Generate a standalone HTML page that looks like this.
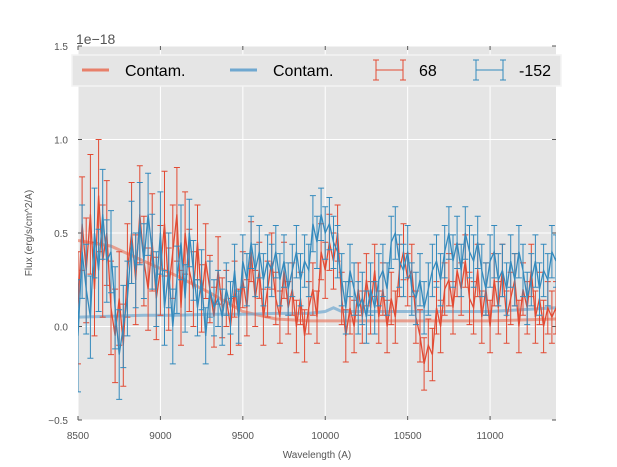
<!DOCTYPE html>
<html><head><meta charset="utf-8"><style>
body{margin:0;background:#fff;}
svg{display:block;font-family:"Liberation Sans","DejaVu Sans",sans-serif;}
</style></head><body>
<svg id="chart" width="617" height="467" viewBox="0 0 617 467" xmlns="http://www.w3.org/2000/svg">
<rect x="78" y="46" width="478" height="374" fill="#e5e5e5"/>
<g id="grid"></g>
<g id="axes"></g>
<g id="series"></g>
<g id="legend"></g>
</svg>
<script>
const xTicks=[8500,9000,9500,10000,10500,11000];
const yTicks=[-0.5,0.0,0.5,1.0,1.5];
const yTickLabels=["−0.5","0.0","0.5","1.0","1.5"];
const startWave=8500;
const stepWave=25;
const redFlux=[0.1,0.55,0.3,0.6,0.2,0.7,0.35,0.5,0.1,-0.05,0.15,-0.1,
0.3,0.5,0.25,0.6,0.35,0.2,0.45,0.15,0.3,0.55,0.2,0.4,
0.6,0.1,0.5,0.3,0.2,0.45,0.15,0.35,0.2,0.05,0.3,0.1,
0.15,0.0,0.2,0.05,0.25,0.1,0.4,0.15,0.3,0.05,0.2,0.35,
0.15,0.05,0.3,0.1,0.2,0.0,0.15,-0.05,0.1,0.2,0.05,0.4,
0.3,0.45,0.35,0.5,0.15,-0.05,0.1,0.0,0.2,0.05,0.25,0.1,
0.3,0.05,0.2,0.0,0.15,0.05,0.3,0.4,0.25,0.3,0.05,-0.05,
-0.2,-0.1,-0.15,0.1,0.0,0.2,0.25,0.1,0.3,0.2,0.35,0.15,
0.1,0.3,0.05,0.2,0.0,0.25,0.1,0.3,0.05,0.15,0.25,0.0,
0.2,0.1,0.3,0.05,0.15,0.0,0.1,0.05,0.1];
const redErr=[0.3,0.25,0.28,0.32,0.25,0.3,0.3,0.28,0.25,0.25,0.25,0.22,
0.25,0.27,0.24,0.26,0.24,0.22,0.26,0.22,0.24,0.28,0.22,0.25,
0.25,0.2,0.22,0.22,0.2,0.2,0.18,0.2,0.18,0.16,0.18,0.16,
0.15,0.15,0.15,0.15,0.15,0.15,0.16,0.15,0.15,0.15,0.15,0.15,
0.14,0.14,0.15,0.14,0.14,0.14,0.14,0.14,0.14,0.14,0.14,0.15,
0.15,0.15,0.15,0.15,0.14,0.14,0.14,0.14,0.14,0.14,0.14,0.14,
0.14,0.14,0.14,0.14,0.14,0.14,0.14,0.15,0.14,0.14,0.14,0.14,
0.14,0.14,0.14,0.14,0.14,0.14,0.14,0.14,0.14,0.14,0.14,0.14,
0.14,0.14,0.14,0.14,0.14,0.14,0.14,0.14,0.14,0.14,0.14,0.14,
0.14,0.14,0.14,0.14,0.14,0.14,0.14,0.14,0.14];
const blueFlux=[-0.05,0.4,0.2,0.05,0.5,0.3,0.6,0.35,0.4,0.1,-0.15,0.0,
0.15,0.45,0.3,0.55,0.35,0.6,0.4,0.2,0.5,0.1,0.3,0.0,
0.25,0.45,0.15,0.5,0.3,0.1,0.25,-0.05,0.2,0.1,0.15,0.05,
0.2,0.1,0.3,0.05,0.35,0.25,0.45,0.3,0.4,0.25,0.35,0.3,
0.4,0.25,0.35,0.2,0.3,0.4,0.25,0.35,0.3,0.55,0.45,0.6,
0.5,0.55,0.45,0.4,0.25,0.1,0.3,0.2,0.1,0.15,0.05,0.2,
0.1,0.25,0.3,0.2,0.45,0.5,0.35,0.3,0.4,0.2,0.15,0.25,
0.1,0.2,0.3,0.35,0.25,0.4,0.5,0.35,0.45,0.3,0.5,0.4,
0.35,0.45,0.3,0.2,0.35,0.4,0.25,0.3,0.2,0.35,0.25,0.4,
0.3,0.15,0.25,0.35,0.2,0.3,0.25,0.4,0.35];
const blueErr=[0.3,0.25,0.24,0.22,0.24,0.22,0.24,0.22,0.22,0.22,0.24,0.22,
0.2,0.22,0.2,0.22,0.2,0.22,0.2,0.2,0.22,0.2,0.2,0.2,
0.18,0.2,0.18,0.18,0.16,0.15,0.16,0.15,0.15,0.15,0.15,0.15,
0.14,0.14,0.14,0.14,0.14,0.14,0.14,0.14,0.14,0.14,0.14,0.14,
0.14,0.14,0.14,0.14,0.14,0.14,0.14,0.14,0.14,0.15,0.14,0.14,
0.14,0.14,0.14,0.14,0.14,0.14,0.14,0.14,0.14,0.14,0.14,0.14,
0.14,0.14,0.14,0.14,0.14,0.14,0.14,0.14,0.14,0.14,0.14,0.14,
0.14,0.14,0.14,0.14,0.14,0.14,0.14,0.14,0.14,0.14,0.14,0.14,
0.14,0.14,0.14,0.14,0.14,0.14,0.14,0.14,0.14,0.14,0.14,0.14,
0.14,0.14,0.14,0.14,0.14,0.14,0.14,0.14,0.14];
const contamWave=[8500,8700,8900,9100,9300,9500,9700,9900,10000,10050,10100,10200,10600,11000,11400];
const redContam=[0.46,0.43,0.35,0.27,0.18,0.08,0.04,0.03,0.03,0.03,0.03,0.03,0.03,0.03,0.04];
const blueContam=[0.05,0.055,0.06,0.06,0.065,0.065,0.07,0.07,0.08,0.1,0.08,0.08,0.08,0.08,0.1];

const X0=78,X1=556,XMIN=8500,XMAX=11400,Y0=420,Y1=46,YMIN=-0.5,YMAX=1.5;
function sx(w){return X0+(w-XMIN)/(XMAX-XMIN)*(X1-X0);}
function sy(v){return Y0-(v-YMIN)/(YMAX-YMIN)*(Y0-Y1);}
const NS="http://www.w3.org/2000/svg";
function mk(tag,attrs,parent){const e=document.createElementNS(NS,tag);for(const k in attrs)e.setAttribute(k,attrs[k]);parent.appendChild(e);return e;}
const grid=document.getElementById('grid'),axes=document.getElementById('axes'),ser=document.getElementById('series'),leg=document.getElementById('legend');
xTicks.forEach(t=>{const x=sx(t);
 let g=mk('line',{x1:x,x2:x,y1:Y1,y2:Y0,stroke:'#fff','stroke-width':1},grid);
 
 
 mk('line',{x1:x,x2:x,y1:Y0,y2:Y0-4,stroke:'#555'},axes);
 mk('line',{x1:x,x2:x,y1:Y1,y2:Y1+4,stroke:'#555'},axes);
 let l=mk('text',{x:x,y:Y0+19,'text-anchor':'middle','font-size':10,fill:'#555'},axes);l.textContent=t;
 
 
});
yTicks.forEach((t,i)=>{const y=sy(t);
 let g=mk('line',{x1:X0,x2:X1,y1:y,y2:y,stroke:'#fff','stroke-width':1},grid);
 
 
 mk('line',{x1:X0,x2:X0+4,y1:y,y2:y,stroke:'#555'},axes);
 mk('line',{x1:X1-4,x2:X1,y1:y,y2:y,stroke:'#555'},axes);
 let l=mk('text',{x:X0-10,y:y+4,'text-anchor':'end','font-size':10,fill:'#555'},axes);l.textContent=yTickLabels[i];
 
 
});
let t1=mk('text',{x:76,y:44,'font-size':14,fill:'#555'},axes);t1.textContent='1e−18';


let xt=mk('text',{x:(X0+X1)/2,y:458,'text-anchor':'middle','font-size':10,fill:'#555'},axes);xt.textContent='Wavelength (A)';


let yt=mk('text',{x:32,y:233,'text-anchor':'middle','font-size':10,fill:'#555',transform:'rotate(-90 32 233)'},axes);yt.textContent='Flux (erg/s/cm^2/A)';



function contam(vals,color,name){
 const d=contamWave.map((w,i)=>(i?'L':'M')+sx(w).toFixed(1)+','+sy(vals[i]).toFixed(1)).join('');
 const p=mk('path',{d:d,fill:'none',stroke:color,'stroke-width':3,opacity:0.7},ser);
 
 
}
function errs(vals,err,color,name){
 const g=mk('g',{},ser);
 
 
 let d='';
 vals.forEach((v,i)=>{const x=sx(startWave+i*stepWave);if(x>X1+0.5)return;
  const a=sy(v+err[i]),b=sy(v-err[i]);
  d+=`M${x.toFixed(1)},${a.toFixed(1)}V${b.toFixed(1)}M${(x-3).toFixed(1)},${a.toFixed(1)}h6M${(x-3).toFixed(1)},${b.toFixed(1)}h6`;});
 mk('path',{d:d,fill:'none',stroke:color,'stroke-width':1},g);
 const ld=vals.map((v,i)=>(i?'L':'M')+sx(startWave+i*stepWave).toFixed(1)+','+sy(v).toFixed(1)).join('');
 mk('path',{d:ld,fill:'none',stroke:color,'stroke-width':1.3},g);
}
const cp=mk('clipPath',{id:'clip'},document.getElementById('chart'));mk('rect',{x:X0,y:Y1,width:X1-X0,height:Y0-Y1},cp);
ser.setAttribute('clip-path','url(#clip)');
contam(redContam,'#e8806a','contam-red-line');
contam(blueContam,'#6fa8d0','contam-blue-line');
errs(redFlux,redErr,'#e24a33','series-68');
errs(blueFlux,blueErr,'#348abd','series-minus-152');

const lb=mk('rect',{x:72,y:55,width:489,height:31,fill:'#e5e5e5',stroke:'#f4f4f4','stroke-width':1.5},leg);


const items=[['Contam.','#e8806a',82,'line','legend-contam-red'],['Contam.','#6fa8d0',230,'line','legend-contam-blue'],['68','#e24a33',376,'err','legend-68'],['-152','#348abd',476,'err','legend-minus-152']];
items.forEach(it=>{const g=mk('g',{},leg);
 
 
 const x=it[2],y=70;
 if(it[3]==='line'){mk('line',{x1:x,x2:x+27,y1:y,y2:y,stroke:it[1],'stroke-width':3},g);}
 else{mk('path',{d:`M${x},${y}h27M${x},${y-10}v20M${x+27},${y-10}v20M${x-3},${y-10}h6M${x-3},${y+10}h6M${x+24},${y-10}h6M${x+24},${y+10}h6`,stroke:it[1],'stroke-width':1,fill:'none'},g);}
 const t=mk('text',{x:x+43,y:y+6,'font-size':16,fill:'#000'},g);t.textContent=it[0];
});
</script>
</body></html>
